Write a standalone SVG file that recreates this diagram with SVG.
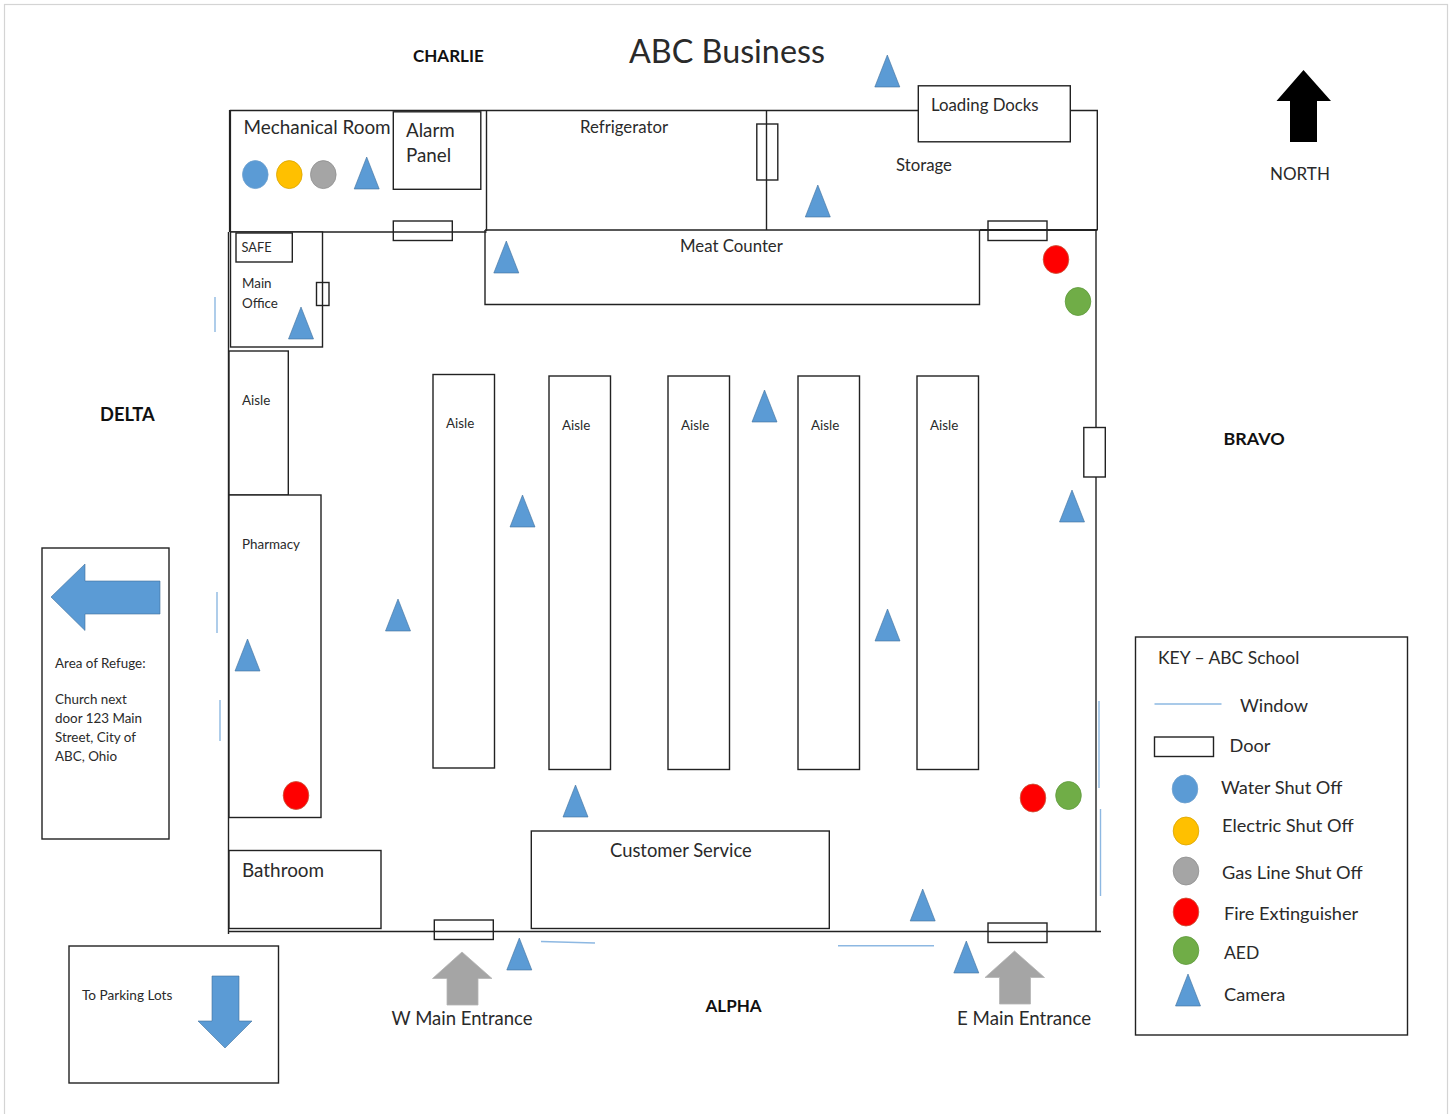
<svg xmlns="http://www.w3.org/2000/svg" width="1453" height="1114" viewBox="0 0 1453 1114">
<style>
text{font-family:"Lato","Liberation Sans",sans-serif;fill:#2a2a2a;font-size:14px}
.b{fill:#fff;stroke:#222;stroke-width:1.4}
.o{fill:none;stroke:#222;stroke-width:1.4}
.n{fill:none;stroke:#222;stroke-width:1.4}
.w{stroke:#8db8e2;stroke-width:1.4;fill:none}
.cam{fill:#5b9bd5;stroke:#41719c;stroke-width:.6}
.blue{fill:#5b9bd5;stroke:#6d9fce;stroke-width:.8}
.yel{fill:#ffc000;stroke:#d9a400;stroke-width:.8}
.gry{fill:#a5a5a5;stroke:#8f8f8f;stroke-width:.8}
.red{fill:#ff0000;stroke:#c8553a;stroke-width:.8}
.grn{fill:#70ad47;stroke:#5f9a3c;stroke-width:.8}
.t13{font-size:13.400px}.t17{font-size:16.800px}.t18{font-size:18.400px}.k{font-size:18.200px}
.h{font-weight:700;font-size:16.800px;fill:#111}
</style>
<defs>
<path id="c" class="cam" d="M-12.500 16L0 -16L12.500 16Z"/>
</defs>
<rect x="4.500" y="4.500" width="1443" height="1120" fill="#fff" stroke="#d4d4d4" stroke-width="1.200"/>
<g id="walls">
<path class="n" d="M229.800 110.500H1097.300V230M228.500 232V934M1096 230V932M228 931.500H1101M230 232H486.500M485 230H980"/>
<path class="n" style="stroke-width:2.200" d="M230 110V232M980 230H1097.500"/>
<path class="n" d="M486.500 111V231M766.500 111V230"/>
</g>
<g id="windows">
<path class="w" d="M215 297V332M217 592V633M220 700V741M1099 701V788M1100.500 809V896M541 941.500L595 943M838 945.800H934"/>
</g>
<g id="mechanical-room"><text x="243.500" y="134" style="font-size:18.900px">Mechanical Room</text>
<ellipse class="blue" cx="255.300" cy="174.600" rx="12.800" ry="14"/><ellipse class="yel" cx="289.300" cy="174.600" rx="12.800" ry="14"/><ellipse class="gry" cx="323.300" cy="174.600" rx="12.800" ry="14"/>
<use href="#c" x="366.700" y="173"/></g>
<g id="alarm-panel"><rect class="b" x="393.300" y="111.800" width="87.500" height="77.500"/><text x="406" y="137" style="font-size:18.800px">Alarm</text><text x="406" y="161.500" style="font-size:18.800px">Panel</text></g>
<g id="door-mech"><rect class="o" x="393.300" y="221" width="59" height="19.500"/></g>
<g id="refrigerator"><text x="580" y="133" class="t17">Refrigerator</text></g>
<g id="door-fridge"><rect class="o" x="756.800" y="124" width="21" height="56"/></g>
<g id="storage"><text x="896" y="171" class="t17">Storage</text><use href="#c" x="817.800" y="201"/></g>
<g id="loading-docks"><rect class="b" x="918.300" y="85.800" width="152" height="56"/><text x="931" y="111" class="t17">Loading Docks</text></g>
<g id="door-storage"><rect class="o" x="988" y="221" width="59" height="19.500"/></g>
<g id="meat-counter"><path class="n" d="M485 230V304.500H979.500V230"/><text x="680" y="252" class="t17">Meat Counter</text><use href="#c" x="506.300" y="257"/></g>
<g id="main-office"><rect class="b" x="230.500" y="232" width="92" height="115"/><rect class="b" x="236" y="233" width="56.300" height="29"/><text x="241.500" y="252" style="font-size:12.800px">SAFE</text><text x="242" y="288" class="t13">Main</text><text x="242" y="308" class="t13">Office</text><rect class="o" x="316.500" y="282.500" width="12.500" height="23"/><use href="#c" x="301" y="323"/></g>
<g id="aisle-west"><rect class="b" x="229" y="351" width="59.300" height="144"/><text x="242" y="405" class="t13">Aisle</text></g>
<g id="pharmacy"><rect class="b" x="229" y="495" width="92" height="322.500"/><text x="242" y="549" class="t13">Pharmacy</text><use href="#c" x="247.500" y="655"/><ellipse class="red" cx="296" cy="795.500" rx="12.800" ry="14"/></g>
<g id="bathroom"><rect class="b" x="229" y="850.500" width="152" height="78"/><text x="242" y="877" style="font-size:18.900px">Bathroom</text></g>
<g id="aisle-1"><rect class="b" x="433" y="374.500" width="61.500" height="393.500"/><text x="446" y="428" class="t13">Aisle</text></g>
<g id="aisle-2"><rect class="b" x="549" y="376" width="61.500" height="393.500"/><text x="562" y="429.500" class="t13">Aisle</text></g>
<g id="aisle-3"><rect class="b" x="668" y="376" width="61.500" height="393.500"/><text x="681" y="429.500" class="t13">Aisle</text></g>
<g id="aisle-4"><rect class="b" x="798" y="376" width="61.500" height="393.500"/><text x="811" y="429.500" class="t13">Aisle</text></g>
<g id="aisle-5"><rect class="b" x="917" y="376" width="61.500" height="393.500"/><text x="930" y="429.500" class="t13">Aisle</text></g>
<g id="customer-service"><rect class="b" x="531.300" y="831" width="298" height="97.500"/><text x="610" y="857" style="font-size:18.400px">Customer Service</text></g>
<g id="door-east"><rect class="b" x="1083.800" y="427.500" width="21.500" height="49.500"/></g>
<g id="door-w"><rect class="o" x="434.300" y="920" width="59" height="19.500"/></g>
<g id="door-e"><rect class="o" x="988" y="923" width="59" height="19.500"/></g>
<g id="equipment">
<ellipse class="red" cx="1056" cy="259.500" rx="12.800" ry="14"/><ellipse class="grn" cx="1078" cy="301.500" rx="12.800" ry="14"/>
<ellipse class="red" cx="1033" cy="798" rx="12.800" ry="14"/><ellipse class="grn" cx="1068.500" cy="795.500" rx="12.800" ry="14"/>
</g>
<g id="cameras">
<use href="#c" x="887.300" y="71"/><use href="#c" x="764.500" y="406"/><use href="#c" x="522.500" y="511"/><use href="#c" x="398" y="615"/><use href="#c" x="1072" y="506"/><use href="#c" x="887.500" y="625"/><use href="#c" x="575.500" y="801"/><use href="#c" x="922.700" y="905"/><use href="#c" x="519.300" y="954"/><use href="#c" x="966.300" y="957"/>
</g>
<g id="title"><text x="629" y="63" style="font-size:32.300px">ABC Business</text></g>
<g id="directions">
<text x="413" y="61.500" class="h" style="font-size:17px">CHARLIE</text><text x="100" y="420.500" class="h" style="font-size:18.300px">DELTA</text><text x="1223.500" y="444.500" class="h" style="font-size:17.900px">BRAVO</text><text x="705.500" y="1011.500" class="h" style="font-size:17px">ALPHA</text>
</g>
<g id="north"><path d="M1303.500 70L1331 101H1317V142H1290V101H1276.500Z" fill="#000"/><text x="1270" y="179.500" style="font-size:17px">NORTH</text></g>
<g id="refuge"><rect class="b" x="42" y="548" width="127" height="291"/><path class="cam" d="M51 597L85 564V581H160V614H85V630.500Z"/>
<text x="55" y="668" class="t13">Area of Refuge:</text><text x="55" y="704" class="t13">Church next</text><text x="55" y="723" class="t13">door 123 Main</text><text x="55" y="742" class="t13">Street, City of</text><text x="55" y="761" class="t13">ABC, Ohio</text></g>
<g id="parking"><rect class="b" x="69" y="946" width="209.500" height="137"/><text x="82" y="1000" style="font-size:13.600px">To Parking Lots</text><path class="cam" d="M212 976H239V1021H252L225 1048L198 1021H212Z"/></g>
<g id="w-entrance"><path fill="#a5a5a5" stroke="#b5b5b5" stroke-width=".8" d="M462 952L492 978.500H478V1005H447V978.500H432.500Z"/><text x="391.500" y="1024.500" style="font-size:18.500px">W Main Entrance</text></g>
<g id="e-entrance"><path fill="#a5a5a5" stroke="#b5b5b5" stroke-width=".8" d="M1014.500 951L1044.500 977.500H1030.500V1004H999.500V977.500H985Z"/><text x="957" y="1024.500" style="font-size:18.700px">E Main Entrance</text></g>
<g id="key"><rect class="b" x="1135.500" y="637" width="272" height="398"/>
<text x="1158" y="663.500" style="font-size:17.500px">KEY – ABC School</text>
<path class="w" d="M1154.500 704H1221.500"/><text x="1240" y="711.500" class="k">Window</text>
<rect class="b" x="1154.500" y="737" width="59" height="19.500"/><text x="1229.500" y="751.500" class="k">Door</text>
<ellipse class="blue" cx="1185" cy="789" rx="12.800" ry="14"/><text x="1221" y="793.500" class="k">Water Shut Off</text>
<ellipse class="yel" cx="1186" cy="831" rx="12.800" ry="14"/><text x="1222" y="832" class="k">Electric Shut Off</text>
<ellipse class="gry" cx="1186" cy="871" rx="12.800" ry="14"/><text x="1222" y="878.500" class="k">Gas Line Shut Off</text>
<ellipse class="red" cx="1186" cy="912" rx="12.800" ry="14"/><text x="1224" y="919.500" class="k">Fire Extinguisher</text>
<ellipse class="grn" cx="1186" cy="950.500" rx="12.800" ry="14"/><text x="1224" y="958.500" style="font-size:17.500px">AED</text>
<use href="#c" x="1188" y="990"/><text x="1224" y="1000.500" class="k">Camera</text></g>
</svg>
